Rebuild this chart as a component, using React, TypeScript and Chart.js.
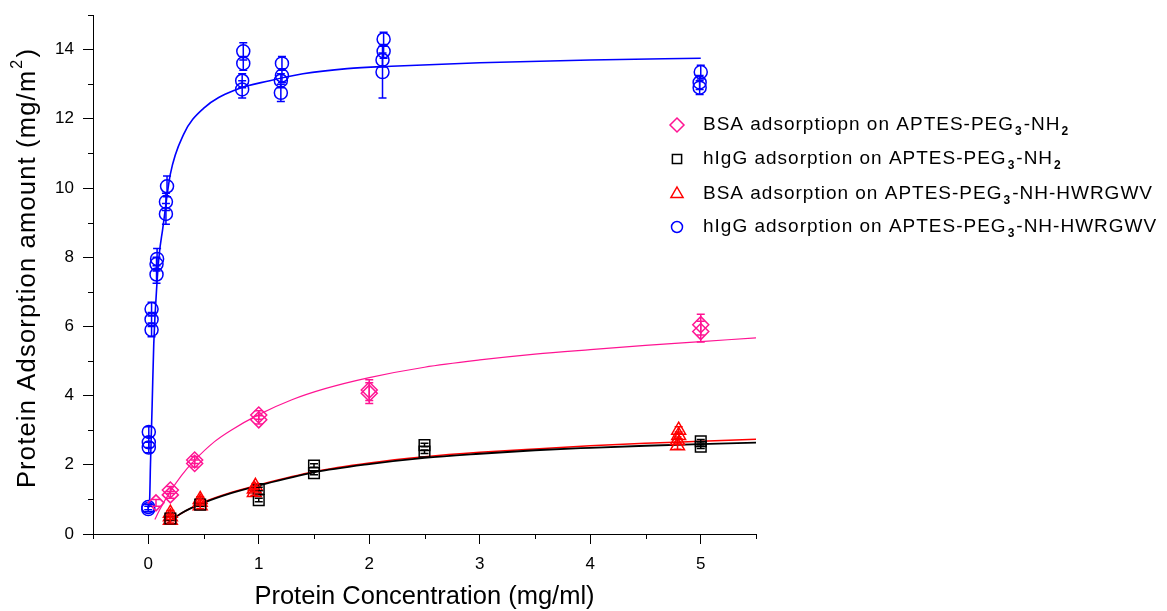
import React, { useEffect, useRef } from 'react';
import { Chart, registerables } from 'chart.js';

Chart.register(...registerables);

const FONT = '"Liberation Sans", Arial, sans-serif';

// ---------- Measured points (open markers with error bars) ----------
// BSA adsorption on APTES-PEG3-NH2 (pink diamonds)
const bsaNh2X = [0.07, 0.2, 0.2, 0.42, 0.42, 1.0, 1.0, 2.0, 2.0, 5.0, 5.0];
const bsaNh2Y = [0.9, 1.13, 1.27, 2.04, 2.14, 3.3, 3.44, 4.07, 4.16, 5.85, 6.05];
const bsaNh2Err = [0.1, 0.1, 0.1, 0.1, 0.1, 0.12, 0.12, 0.3, 0.3, 0.3, 0.3];

// hIgG adsorption on APTES-PEG3-NH2 (black squares)
const igNh2X = [0.2, 0.47, 1.0, 1.0, 1.5, 1.5, 2.5, 2.5, 5.0, 5.0];
const igNh2Y = [0.45, 0.85, 0.98, 1.3, 1.76, 1.98, 2.38, 2.57, 2.52, 2.68];
const igNh2Err = [0.05, 0.05, 0.05, 0.05, 0.05, 0.05, 0.05, 0.05, 0.05, 0.05];

// BSA adsorption on APTES-PEG3-NH-HWRGWV (red triangles)
const bsaPepX = [0.2, 0.2, 0.2, 0.47, 0.47, 0.47, 0.96, 0.96, 0.97, 4.79, 4.79, 4.8, 4.8];
const bsaPepY = [0.4, 0.5, 0.6, 0.82, 0.92, 1.0, 1.2, 1.3, 1.38, 2.55, 2.7, 2.85, 3.0];
const bsaPepErr = [0.08, 0.08, 0.08, 0.08, 0.08, 0.08, 0.08, 0.08, 0.08, 0.1, 0.1, 0.1, 0.1];

// hIgG adsorption on APTES-PEG3-NH-HWRGWV (blue circles)
const igPepX = [0, 0, 0.005, 0.005, 0.005, 0.03, 0.03, 0.03, 0.075, 0.075, 0.08, 0.16, 0.16, 0.17, 0.85, 0.85, 0.86, 0.86, 1.2, 1.2, 1.21, 1.21, 2.12, 2.12, 2.13, 2.13, 4.99, 4.99, 5.0];
const igPepY = [0.72, 0.78, 2.5, 2.65, 2.95, 5.9, 6.2, 6.5, 7.5, 7.8, 7.95, 9.25, 9.6, 10.05, 12.85, 13.1, 13.6, 13.95, 12.75, 13.1, 13.25, 13.6, 13.35, 13.7, 13.95, 14.3, 12.9, 13.05, 13.35];
const igPepErr = [0.08, 0.08, 0.15, 0.15, 0.15, 0.2, 0.2, 0.2, 0.25, 0.2, 0.3, 0.3, 0.25, 0.3, 0.25, 0.2, 0.2, 0.25, 0.25, 0.2, 0.2, 0.2, 0.75, 0.2, 0.2, 0.2, 0.2, 0.2, 0.2];

// ---------- Fitted curves ----------
const fitBsaNh2X = [0.06, 0.1, 0.2, 0.3, 0.41, 0.6, 0.75, 1.0, 1.3, 1.6, 2.0, 2.5, 3.0, 3.5, 4.0, 4.5, 5.0, 5.5];
const fitBsaNh2Y = [0.42, 0.68, 1.23, 1.69, 2.1, 2.67, 3.0, 3.45, 3.88, 4.2, 4.52, 4.82, 5.03, 5.2, 5.33, 5.45, 5.56, 5.67];

const fitIgNh2X = [0.17, 0.3, 0.5, 0.75, 1.0, 1.5, 2.0, 2.5, 3.0, 3.5, 4.0, 4.5, 5.0, 5.5];
const fitIgNh2Y = [0.3, 0.6, 0.9, 1.18, 1.4, 1.78, 2.02, 2.2, 2.32, 2.42, 2.49, 2.55, 2.6, 2.64];

const fitBsaPepX = [0.2, 0.3, 0.5, 0.75, 1.0, 1.5, 2.0, 2.5, 3.0, 3.5, 4.0, 4.5, 5.0, 5.5];
const fitBsaPepY = [0.38, 0.6, 0.92, 1.2, 1.42, 1.8, 2.05, 2.23, 2.36, 2.46, 2.55, 2.62, 2.68, 2.74];

const fitIgPepX = [0, 0.012, 0.02, 0.035, 0.05, 0.08, 0.1, 0.13, 0.2, 0.32, 0.5, 0.8, 1.1, 1.4, 1.8, 2.2, 3.0, 4.0, 5.0];
const fitIgPepY = [0.75, 0.95, 2.0, 3.7, 5.5, 7.3, 8.1, 8.8, 10.4, 11.55, 12.3, 12.85, 13.1, 13.3, 13.45, 13.52, 13.62, 13.7, 13.75];

// ---------- Axes ----------
const xMajorTicks = [0, 1, 2, 3, 4, 5];
const xMinorTicks = [-0.5, 0.5, 1.5, 2.5, 3.5, 4.5, 5.5];
const yMajorTicks = [0, 2, 4, 6, 8, 10, 12, 14];
const yMinorTicks = [1, 3, 5, 7, 9, 11, 13, 15];
const xTitle = 'Protein Concentration (mg/ml)';
// y title segments: [text, isSuperscript]
const yTitleSegs: [string, boolean][] = [
  ['Protein Adsorption amount (mg/m', false],
  ['2', true],
  [')', false],
];

// ---------- Legend (segments: [text, isSubscript]) ----------
const legendLabels: [string, boolean][][] = [
  [['BSA adsorptiopn on APTES-PEG', false], ['3', true], ['-NH', false], ['2', true]],
  [['hIgG adsorption on APTES-PEG', false], ['3', true], ['-NH', false], ['2', true]],
  [['BSA adsorption on APTES-PEG', false], ['3', true], ['-NH-HWRGWV', false]],
  [['hIgG adsorption on APTES-PEG', false], ['3', true], ['-NH-HWRGWV', false]],
];

const PINK = '#FF1493';
const BLACK = '#000000';
const RED = '#FF0000';
const BLUE = '#0000FF';

const seriesStyles = [
  { color: PINK, shape: 'rectRot', radius: 8 },
  { color: BLACK, shape: 'rect', radius: 7.5 },
  { color: RED, shape: 'triangle', radius: 8 },
  { color: BLUE, shape: 'circle', radius: 6.5 },
];

const zip = (xs: number[], ys: number[]) => xs.map((x, i) => ({ x, y: ys[i] }));

function drawMarker(ctx: CanvasRenderingContext2D, shape: string, x: number, y: number, r: number) {
  ctx.beginPath();
  if (shape === 'circle') {
    ctx.arc(x, y, r, 0, Math.PI * 2);
  } else if (shape === 'rect') {
    const s = r * Math.SQRT1_2;
    ctx.rect(x - s, y - s, 2 * s, 2 * s);
  } else if (shape === 'rectRot') {
    ctx.moveTo(x, y - r);
    ctx.lineTo(x + r, y);
    ctx.lineTo(x, y + r);
    ctx.lineTo(x - r, y);
    ctx.closePath();
  } else if (shape === 'triangle') {
    ctx.moveTo(x, y - r);
    ctx.lineTo(x + r * 0.866, y + r * 0.5);
    ctx.lineTo(x - r * 0.866, y + r * 0.5);
    ctx.closePath();
  }
  ctx.stroke();
}

const errorBarPlugin = {
  id: 'errorBars',
  afterDatasetsDraw(chart: any) {
    const ctx = chart.ctx as CanvasRenderingContext2D;
    const xs = chart.scales.x;
    const ys = chart.scales.y;
    const sets = [
      [bsaNh2X, bsaNh2Y, bsaNh2Err, PINK],
      [igNh2X, igNh2Y, igNh2Err, BLACK],
      [bsaPepX, bsaPepY, bsaPepErr, RED],
      [igPepX, igPepY, igPepErr, BLUE],
    ] as [number[], number[], number[], string][];
    ctx.save();
    ctx.lineWidth = 1.5;
    sets.forEach(([X, Y, E, c]) => {
      ctx.strokeStyle = c;
      X.forEach((xv, i) => {
        const px = xs.getPixelForValue(xv);
        const top = ys.getPixelForValue(Y[i] + E[i]);
        const bot = ys.getPixelForValue(Y[i] - E[i]);
        ctx.beginPath();
        ctx.moveTo(px, top);
        ctx.lineTo(px, bot);
        ctx.moveTo(px - 4, top);
        ctx.lineTo(px + 4, top);
        ctx.moveTo(px - 4, bot);
        ctx.lineTo(px + 4, bot);
        ctx.stroke();
      });
    });
    ctx.restore();
  },
};

const minorTickPlugin = {
  id: 'minorTicks',
  afterDraw(chart: any) {
    const ctx = chart.ctx as CanvasRenderingContext2D;
    const xs = chart.scales.x;
    const ys = chart.scales.y;
    const { left, bottom } = chart.chartArea;
    ctx.save();
    ctx.strokeStyle = '#000';
    ctx.lineWidth = 1;
    ctx.beginPath();
    xMinorTicks.forEach((v) => {
      const px = Math.round(xs.getPixelForValue(v)) + 0.5;
      ctx.moveTo(px, bottom);
      ctx.lineTo(px, bottom + 5);
    });
    yMinorTicks.forEach((v) => {
      const py = Math.round(ys.getPixelForValue(v)) + 0.5;
      ctx.moveTo(left, py);
      ctx.lineTo(left - 5, py);
    });
    ctx.stroke();
    ctx.restore();
  },
};

const yTitlePlugin = {
  id: 'yTitle',
  afterDraw(chart: any) {
    const ctx = chart.ctx as CanvasRenderingContext2D;
    const cy = 268;
    const cx = 28;
    ctx.save();
    (ctx as any).letterSpacing = '1.2px';
    const big = `25.5px ${FONT}`;
    const small = `16px ${FONT}`;
    let total = 0;
    yTitleSegs.forEach(([t, sup]) => {
      ctx.font = sup ? small : big;
      total += ctx.measureText(t).width + (sup ? 2 : 0);
    });
    ctx.translate(cx, cy);
    ctx.rotate(-Math.PI / 2);
    ctx.fillStyle = '#000';
    ctx.textBaseline = 'middle';
    ctx.textAlign = 'left';
    let x = -total / 2;
    yTitleSegs.forEach(([t, sup]) => {
      if (sup) {
        ctx.font = small;
        ctx.fillText(t, x + 1, -10);
        x += ctx.measureText(t).width + 2;
      } else {
        ctx.font = big;
        ctx.fillText(t, x, 0);
        x += ctx.measureText(t).width;
      }
    });
    ctx.restore();
  },
};

const legendPlugin = {
  id: 'customLegend',
  afterDraw(chart: any) {
    const ctx = chart.ctx as CanvasRenderingContext2D;
    const mx = 677;
    const tx = 703;
    const rows = [125, 159, 194, 227];
    ctx.save();
    legendLabels.forEach((segs, i) => {
      const st = seriesStyles[i];
      ctx.strokeStyle = st.color;
      ctx.lineWidth = 1.5;
      (ctx as any).letterSpacing = '0px';
      drawMarker(ctx, st.shape, mx, rows[i], st.radius - 1);
      let x = tx;
      ctx.fillStyle = '#000';
      ctx.textBaseline = 'middle';
      ctx.textAlign = 'left';
      segs.forEach(([t, sub]) => {
        if (sub) {
          (ctx as any).letterSpacing = '0px';
          ctx.font = `bold 12px ${FONT}`;
          ctx.fillText(t, x + 1, rows[i] + 7);
          x += ctx.measureText(t).width + 3;
        } else {
          (ctx as any).letterSpacing = '1px';
          ctx.font = `19px ${FONT}`;
          ctx.fillText(t, x, rows[i]);
          x += ctx.measureText(t).width;
        }
      });
    });
    ctx.restore();
  },
};

const App = () => {
  const ref = useRef<HTMLCanvasElement>(null);
  useEffect(() => {
    document.body.style.margin = '0';
    const pointSet = (label: string, X: number[], Y: number[], idx: number) => ({
      label,
      data: zip(X, Y),
      showLine: false,
      pointStyle: seriesStyles[idx].shape,
      pointRadius: seriesStyles[idx].radius,
      pointBorderColor: seriesStyles[idx].color,
      pointBackgroundColor: 'rgba(0,0,0,0)',
      pointBorderWidth: 1.5,
      borderColor: seriesStyles[idx].color,
    });
    const lineSet = (label: string, X: number[], Y: number[], color: string, w: number) => ({
      label,
      data: zip(X, Y),
      showLine: true,
      pointRadius: 0,
      borderColor: color,
      borderWidth: w,
      cubicInterpolationMode: 'monotone',
      fill: false,
    });
    const chart = new Chart(ref.current!, {
      type: 'scatter',
      data: {
        datasets: [
          pointSet('BSA NH2', bsaNh2X, bsaNh2Y, 0),
          pointSet('hIgG NH2', igNh2X, igNh2Y, 1),
          pointSet('BSA HWRGWV', bsaPepX, bsaPepY, 2),
          pointSet('hIgG HWRGWV', igPepX, igPepY, 3),
          lineSet('fit BSA NH2', fitBsaNh2X, fitBsaNh2Y, PINK, 1.2),
          lineSet('fit hIgG NH2', fitIgNh2X, fitIgNh2Y, BLACK, 1.8),
          lineSet('fit BSA HWRGWV', fitBsaPepX, fitBsaPepY, RED, 1.5),
          lineSet('fit hIgG HWRGWV', fitIgPepX, fitIgPepY, BLUE, 1.6),
        ] as any,
      },
      options: {
        animation: false,
        responsive: false,
        devicePixelRatio: 1,
        layout: { padding: { left: 0, right: 1167 - 756, top: 15, bottom: 0 } },
        plugins: { legend: { display: false }, tooltip: { enabled: false } },
        scales: {
          x: {
            type: 'linear',
            min: -0.5,
            max: 5.5,
            afterBuildTicks: (axis: any) => {
              axis.ticks = xMajorTicks.map((v) => ({ value: v }));
            },
            afterFit: (s: any) => {
              s.height = 77;
              s.paddingLeft = 0;
              s.paddingRight = 0;
            },
            grid: { drawOnChartArea: false, drawTicks: true, tickLength: 10, color: '#000', lineWidth: 1 },
            border: { display: true, color: '#000', width: 1 },
            ticks: { color: '#000', font: { family: FONT, size: 17 }, padding: 10, maxRotation: 0 },
            title: {
              display: true,
              text: xTitle,
              color: '#000',
              font: { family: FONT, size: 25.5, lineHeight: 1 },
              padding: { top: 0, bottom: 1 },
            },
          },
          y: {
            type: 'linear',
            min: 0,
            max: 15,
            afterBuildTicks: (axis: any) => {
              axis.ticks = yMajorTicks.map((v) => ({ value: v }));
            },
            afterFit: (s: any) => {
              s.width = 93;
              s.paddingTop = 0;
              s.paddingBottom = 0;
            },
            grid: { drawOnChartArea: false, drawTicks: true, tickLength: 10, color: '#000', lineWidth: 1 },
            border: { display: true, color: '#000', width: 1 },
            ticks: { color: '#000', font: { family: FONT, size: 17 }, padding: 9 },
            title: { display: false },
          },
        },
      } as any,
      plugins: [errorBarPlugin, minorTickPlugin, yTitlePlugin, legendPlugin],
    });
    return () => chart.destroy();
  }, []);
  return (
    <div style={{ width: 1167, height: 611 }}>
      <canvas ref={ref} width={1167} height={611} style={{ display: 'block' }} />
    </div>
  );
};

export default App;
